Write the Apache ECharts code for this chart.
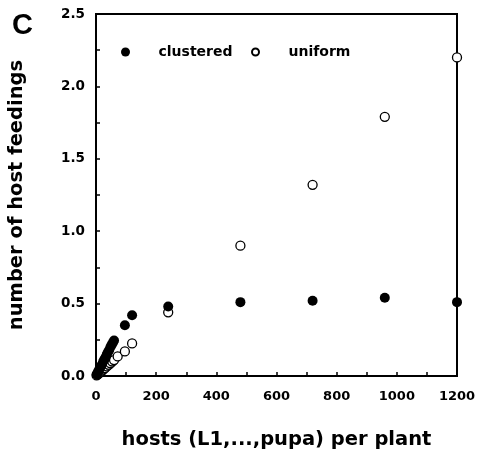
<!DOCTYPE html>
<html>
<head>
<meta charset="utf-8">
<script src="https://cdn.jsdelivr.net/npm/echarts@6/dist/echarts.min.js"></script>
<style>
  html, body { margin: 0; padding: 0; background: #fff; }
  #chart { width: 478px; height: 465px; }
</style>
</head>
<body>
<div id="chart"></div>
<script>
// Host feedings per host density, for clustered and uniform host placement
const clusteredHosts = [2, 5, 8, 12, 16, 20, 24, 28, 32, 36, 40, 44, 48, 52, 56, 60, 96, 120, 240, 480, 720, 960, 1200];
const clusteredFeedings = [0.01, 0.02, 0.035, 0.05, 0.065, 0.08, 0.10, 0.115, 0.13, 0.15, 0.165, 0.18, 0.20, 0.215, 0.23, 0.245, 0.35, 0.42, 0.48, 0.51, 0.52, 0.54, 0.51];

const uniformHosts = [2, 5, 8, 12, 16, 20, 24, 30, 36, 42, 48, 54, 60, 72, 96, 120, 240, 480, 720, 960, 1200];
const uniformFeedings = [0.004, 0.01, 0.015, 0.022, 0.03, 0.037, 0.045, 0.055, 0.066, 0.077, 0.088, 0.10, 0.11, 0.135, 0.17, 0.225, 0.44, 0.90, 1.32, 1.79, 2.20];

const xTicks = { min: 0, max: 1200, interval: 200 };
const yTicks = { min: 0, max: 2.5, interval: 0.5 };

const FONT = 'DejaVu Sans';

function pairs(xs, ys) {
  return xs.map((x, i) => [x, ys[i]]);
}

const chart = echarts.init(document.getElementById('chart'), null, { renderer: 'canvas' });

const legendText = { fontFamily: FONT, fontWeight: 'bold', fontSize: 14, color: '#000' };

chart.setOption({
  animation: false,
  backgroundColor: '#fff',
  title: {
    text: 'C',
    left: 7,
    top: 6,
    textStyle: { fontFamily: 'Liberation Sans', fontWeight: 'bold', fontSize: 29, color: '#000' }
  },
  legend: [
    {
      data: ['clustered'],
      left: 116,
      top: 40,
      itemWidth: 56,
      itemHeight: 9,
      itemGap: 0,
      icon: 'circle',
      textStyle: legendText
    },
    {
      data: ['uniform'],
      left: 246,
      top: 40,
      itemWidth: 56,
      itemHeight: 7,
      itemGap: 0,
      icon: 'circle',
      textStyle: legendText
    }
  ],
  grid: {
    left: 96,
    right: 21,
    top: 14,
    bottom: 89,
    outerBoundsMode: 'none',
    containLabel: false,
    show: true,
    borderColor: '#000',
    borderWidth: 2,
    backgroundColor: 'transparent'
  },
  xAxis: {
    type: 'value',
    min: xTicks.min,
    max: xTicks.max,
    interval: xTicks.interval,
    name: 'hosts (L1,...,pupa) per plant',
    nameLocation: 'middle',
    nameGap: 54,
    nameTextStyle: { fontFamily: FONT, fontWeight: 'bold', fontSize: 19.5, color: '#000' },
    axisLine: { show: true, onZero: false, lineStyle: { color: '#000', width: 2 } },
    axisTick: { show: true, inside: true, length: 4, lineStyle: { color: '#000', width: 1.5 } },
    minorTick: { show: true, splitNumber: 2, length: 4, lineStyle: { color: '#000', width: 1.5 } },
    axisLabel: {
      margin: 14,
      fontFamily: FONT,
      fontWeight: 'bold',
      fontSize: 13,
      color: '#000',
      formatter: v => String(v)
    },
    splitLine: { show: false }
  },
  yAxis: {
    type: 'value',
    min: yTicks.min,
    max: yTicks.max,
    interval: yTicks.interval,
    name: 'number of host feedings',
    nameLocation: 'middle',
    nameGap: 69,
    nameTextStyle: { fontFamily: FONT, fontWeight: 'bold', fontSize: 19.5, color: '#000' },
    axisLine: { show: true, onZero: false, lineStyle: { color: '#000', width: 2 } },
    axisTick: { show: true, inside: true, length: 4, lineStyle: { color: '#000', width: 1.5 } },
    minorTick: { show: true, splitNumber: 2, length: 4, lineStyle: { color: '#000', width: 1.5 } },
    axisLabel: {
      margin: 11,
      fontFamily: FONT,
      fontWeight: 'bold',
      fontSize: 13.5,
      color: '#000',
      formatter: v => v.toFixed(1)
    },
    splitLine: { show: false }
  },
  series: [
    {
      name: 'uniform',
      type: 'scatter',
      data: pairs(uniformHosts, uniformFeedings),
      symbol: 'circle',
      symbolSize: 9,
      clip: false,
      itemStyle: { color: '#fff', borderColor: '#000', borderWidth: 1.3, opacity: 1 },
      z: 2
    },
    {
      name: 'clustered',
      type: 'scatter',
      data: pairs(clusteredHosts, clusteredFeedings),
      symbol: 'circle',
      symbolSize: 10,
      clip: false,
      itemStyle: { color: '#000', borderColor: '#000', borderWidth: 0, opacity: 1 },
      z: 3
    }
  ]
});
</script>
</body>
</html>
